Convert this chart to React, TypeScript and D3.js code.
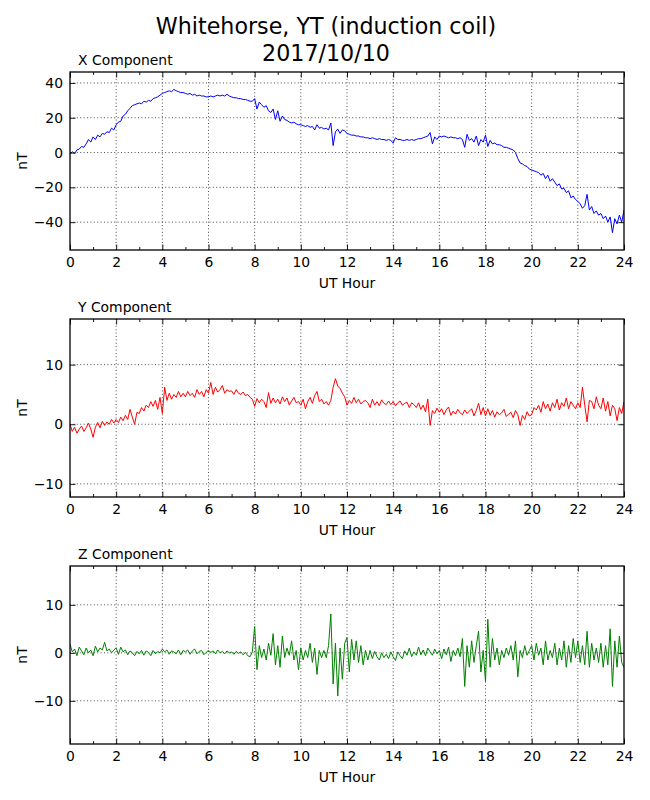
import { useEffect, useRef } from "react"
import * as d3 from "d3"

// sample times, one value every 0.1 UT hour
const hours = d3.range(0, 241).map(i => i / 10)

const xTicks = [0, 2, 4, 6, 8, 10, 12, 14, 16, 18, 20, 22, 24]
const xMinorTicks = [1, 3, 5, 7, 9, 11, 13, 15, 17, 19, 21, 23]

const xCompTicks = [-40, -20, 0, 20, 40]
const yCompTicks = [-10, 0, 10]
const zCompTicks = [-10, 0, 10]

// X component (nT)
const xComp = [
  -1, 0.5, -0.5, 1.5, 2, 3.5, 3, 5, 7.5, 6,
  9, 7.5, 10, 9, 11, 10.5, 12, 11.5, 14, 13,
  16, 17.5, 18, 21, 22, 24, 25.5, 27, 27.5, 28,
  28.5, 28, 29.5, 29, 30, 29.5, 31, 31.5, 32, 33,
  34, 34.5, 35, 35.5, 35, 36.3, 35.5, 35, 34.5, 34.5,
  34, 33.5, 34, 33, 33.5, 32.5, 33, 32.5, 32.5, 32,
  32, 32.5, 32, 32.5, 33, 32.5, 33, 32.5, 33.5, 32.5,
  32, 31.5, 31.5, 31, 31, 30.5, 30.5, 30, 29.5, 29.5,
  31, 25, 29, 27.5, 26, 27, 24, 23, 25, 19,
  24, 18, 21, 19, 18.5, 17.5, 17, 17.5, 16.5, 16,
  16, 15.5, 15, 15.5, 14.5, 15, 13, 16, 14, 14.5,
  13.5, 14, 13, 17, 4, 12, 13.5, 11, 13, 12.5,
  11, 10.5, 10, 10, 9.5, 9.5, 9, 9, 8.5, 8.5,
  8, 8.5, 8, 7.5, 8, 7.5, 7.5, 7, 7.5, 7,
  5.5, 8.5, 7.5, 7.5, 7, 7, 7.5, 7, 7.5, 7,
  7.5, 8, 8, 8.5, 9, 9.5, 11.5, 5, 9, 7.5,
  9.5, 9, 9.5, 9, 8.5, 9, 8.5, 8.5, 8, 8.5,
  7.5, 3, 10.5, 7, 8, 6, 9.5, 4, 7.5, 6,
  10, 3.5, 7, 5, 5.5, 4.5, 4.5, 4, 3, 3,
  2.5, 2, 1.5, 0, -3.5, -6, -6.5, -7.5, -8, -9.5,
  -10, -10.5, -11, -11.5, -13, -12, -15, -13, -16.5, -15,
  -17, -19, -18, -21, -20.5, -23, -22, -26, -25, -27,
  -28, -29.5, -32, -30.5, -24, -33, -31, -35, -33.5, -36,
  -35, -38, -36.5, -40, -37, -46, -38, -41, -36, -40,
  -33,
]

// Y component (nT)
const yComp = [
  0, -1.2, -0.5, -1.5, -0.8, -0.3, -1.2, -0.6, 0.2, -0.8,
  -2.2, -0.5, 0.3, -0.6, 0.5, -0.2, 0.4, 0, 0.8, 0.2,
  0.8, 0.3, 1.2, 0.6, 1.5, 0.8, 2.5, 1.2, 0, 2,
  1.8, 2.8, 2.2, 3.2, 2.8, 3.8, 3, 4, 2.5, 4.5,
  1.8, 6.2, 4, 5.2, 4.2, 5, 4.5, 5.5, 4.6, 5.2,
  4.6, 5.5, 4.8, 5.2, 4.5, 5.8, 5, 5.5, 4.6, 5.8,
  5.2, 7, 5, 6.2, 5.4, 5.8, 6.5, 5.2, 5.8, 5.5,
  5.6, 5, 5.8, 5.2, 5, 5.4, 4.8, 5, 4.5, 4.2,
  3, 4.3, 3.6, 4.2, 3.8, 2.8, 5.3, 3.5, 4.4, 3.6,
  4.2, 3.4, 4.6, 3.8, 4.4, 3.2, 3.9, 4.5, 3.6, 3.8,
  3.2, 4.2, 2.6, 3.8, 4.5, 3.5, 4.8, 5.5, 3.8, 4.2,
  3.4, 3.8, 3.2, 4, 6.2, 7.65, 6.4, 6, 5.2, 4.6,
  3.2, 4, 3.5, 4.5, 3.6, 4.2, 3.4, 3.8, 4, 3.6,
  2.8, 4.2, 3.2, 3.8, 3.1, 4.1, 3.5, 3.3, 3.9, 3.3,
  3.8, 3.1, 3.6, 3.9, 3.2, 3.5, 3.7, 2.8, 3.6, 3.3,
  2.8, 3.6, 2.5, 3.2, 2.1, 4.2, -0.2, 2.3, 1.8, 2.7,
  2, 2.6, 1.6, 2.4, 2.9, 1.5, 2.2, 1.7, 2.5, 1.9,
  1.6, 2.4, 1.8, 2.2, 2.6, 1.4, 2.3, 3.5, 1.6, 2.8,
  1.4, 2.6, 1.5, 2.3, 1.2, 2.1, 1.6, 1.9, 2.5, 1.3,
  1.7, 2, 1.1, 2.3, 1.6, -0.2, 1.5, 0.8, 2.1, 1.4,
  1.6, 2.8, 2.4, 3.2, 2, 3.8, 2.6, 3.4, 2.2, 3.6,
  2.8, 4.2, 2.4, 3.6, 3, 4.4, 2.6, 3.8, 3.2, 2.6,
  3.6, 2.8, 6.2, 3.2, 0.4, 4, 3.8, 2.6, 4.6, 3.2,
  2.6, 4.4, 2.2, 3.8, 1.4, 3.2, 2.6, 0.6, 2.8, 1.8,
  3.8,
]

// Z component (nT)
const zComp = [
  1.8, 0.2, 0.8, -0.6, 1.2, 0.4, -0.4, 1, 0, 0.6,
  -0.6, 1.4, 0.2, 1, 0.6, 2.2, 0.4, 0.8, 0, 0.6,
  1, -0.3, 1.2, 0.2, 0.6, -0.4, 0.4, 0, -0.6, 0.3,
  -0.2, 0.5, -0.5, 0.4, 0.1, -0.6, 0.5, -0.2, 0.3, 0,
  0.8, 0.2, 0.6, -0.3, 0.4, 0.2, -0.2, 0.6, -0.4, 0.5,
  0.2, 0.6, -0.3, 0.4, 0.8, -0.2, 0.3, 0.5, -0.4, 0.1,
  0.5, 0.1, 0.4, -0.2, 0.6, 0, 0.3, -0.2, 0.4, 0,
  0.2, -0.3, 0.3, -0.1, 0.2, -0.4, 0.1, -0.6, -0.8, 0.2,
  5.5, -3.5, 1.5, -1, 0.8, -1.5, 2, -0.5, 4, -2.5,
  1.5, -3, 3.5, -1, 1, -0.5, 2.5, -1.5, 0.5, -3.5,
  1, -1.5, 0.5, -1, 2, -2, 1, -4.5, 0.5, -1,
  0.5, -1, 1.5, 8.1, -6.5, 2, -9, 1, -5.5, 2,
  3.2, -4, 2.8, -1.5, 2.5, -2, 1.5, -2.5, 0.5, -1.5,
  0.5, -1.2, 0.3, -0.8, -1.5, 0, -1, -0.3, -1.2, 0.2,
  -0.8, -1.6, 0.2, -0.6, -1.2, 0.4, -0.5, 1, -0.8, 0.2,
  -0.5, 1.2, -0.4, 0.6, -0.6, 1, 0.2, -0.5, 0.8, -0.2,
  0.5, -1.2, 0.8, -0.4, 1.2, -1.8, 0.5, -0.6, 1, -0.8,
  3, -7, 1.5, -3, 2.5, -2, 1.5, 4.5, -4, 0.5,
  -6, 7, -3, 3, -1.5, 1, -2.5, 0.5, -1, 1,
  -0.5, 1.5, -1.5, 2.5, -5, 0.5, -1, 1.5, -0.5, 0.5,
  1.5, -1.5, 2, -0.5, 1, -2.5, 2.5, -1.5, 0.5, -1,
  2, -2.5, 1, -1.5, 2.5, -3, 1.5, -2, 3, -1,
  2.5, -2, 1.5, -2.5, 4.5, -3, 2, -1.5, 1, -2,
  2, -3, 1.5, -2.5, 5, -7, 2.5, -3, 3.5, -2,
  -3,
]

const panels = [
  { title: "X Component", values: xComp, ticks: xCompTicks, color: "#0000ff" },
  { title: "Y Component", values: yComp, ticks: yCompTicks, color: "#ff0000" },
  { title: "Z Component", values: zComp, ticks: zCompTicks, color: "#008000" },
]

export default function App() {
  const svgRef = useRef<SVGSVGElement>(null)

  useEffect(() => {
    const svg = d3.select(svgRef.current)
    svg.selectAll("*").remove()

    const width = 650
    const height = 800
    const left = 70
    const right = 624
    const plotH = 178
    const tops = [72, 319, 566]
    const font = "DejaVu Sans, sans-serif"

    svg.attr("width", width).attr("height", height)
      .style("font-family", font)

    svg.append("rect").attr("width", width).attr("height", height).attr("fill", "white")

    // figure title
    const title = svg.append("text")
      .attr("text-anchor", "middle")
      .attr("font-size", "22.2px")
      .attr("fill", "#000")
    title.append("tspan").attr("x", 326).attr("y", 34).text("Whitehorse, YT (induction coil)")
    title.append("tspan").attr("x", 326).attr("y", 61).text("2017/10/10")

    const x = d3.scaleLinear().domain([0, 24]).range([left, right])

    panels.forEach((p, i) => {
      const top = tops[i]
      const bottom = top + plotH
      const [lo, hi] = d3.extent(p.values) as [number, number]
      const y = d3.scaleLinear().domain([lo - 10, hi + 10]).range([bottom, top])

      const g = svg.append("g")

      // clip for the trace
      const clipId = `clip-${i}`
      svg.append("defs").append("clipPath").attr("id", clipId)
        .append("rect").attr("x", left).attr("y", top)
        .attr("width", right - left).attr("height", plotH)

      // grid
      g.append("g").selectAll("line").data(xTicks.slice(1, -1)).enter().append("line")
        .attr("x1", d => x(d)).attr("x2", d => x(d))
        .attr("y1", top).attr("y2", bottom)
        .attr("stroke", "#000").attr("stroke-width", 0.7)
        .attr("stroke-dasharray", "1,2.4")
      g.append("g").selectAll("line").data(p.ticks).enter().append("line")
        .attr("x1", left).attr("x2", right)
        .attr("y1", d => y(d)).attr("y2", d => y(d))
        .attr("stroke", "#000").attr("stroke-width", 0.7)
        .attr("stroke-dasharray", "1,2.4")

      // trace
      const line = d3.line<number>()
        .x((d, j) => x(hours[j]))
        .y(d => y(d))
      g.append("path")
        .datum(p.values)
        .attr("clip-path", `url(#${clipId})`)
        .attr("d", line)
        .attr("fill", "none")
        .attr("stroke", p.color)
        .attr("stroke-width", 1)
        .attr("stroke-linejoin", "round")

      // axes with inward ticks
      const xAxis = g.append("g")
        .attr("transform", `translate(0,${bottom})`)
        .call(d3.axisBottom(x).tickValues(xTicks).tickSize(-5.5).tickPadding(7).tickFormat(d3.format("d")))
      const xMinor = g.append("g")
        .attr("transform", `translate(0,${bottom})`)
        .call(d3.axisBottom(x).tickValues(xMinorTicks).tickSize(-3).tickFormat(() => ""))
      const xTop = g.append("g")
        .attr("transform", `translate(0,${top})`)
        .call(d3.axisTop(x).tickValues(xTicks).tickSize(-5.5).tickFormat(() => ""))
      const xTopMinor = g.append("g")
        .attr("transform", `translate(0,${top})`)
        .call(d3.axisTop(x).tickValues(xMinorTicks).tickSize(-3).tickFormat(() => ""))
      const yAxis = g.append("g")
        .attr("transform", `translate(${left},0)`)
        .call(d3.axisLeft(y).tickValues(p.ticks).tickSize(-5.5).tickPadding(7).tickFormat(d3.format("d")))
      const yRight = g.append("g")
        .attr("transform", `translate(${right},0)`)
        .call(d3.axisRight(y).tickValues(p.ticks).tickSize(-5.5).tickFormat(() => ""))

      ;[xAxis, xMinor, xTop, xTopMinor, yAxis, yRight].forEach(a => {
        a.select(".domain").remove()
        a.selectAll(".tick line").attr("stroke", "#000").attr("stroke-width", 0.9)
        a.selectAll(".tick text")
          .attr("font-family", font)
          .attr("font-size", "13.9px")
          .attr("fill", "#000")
      })

      // frame
      g.append("rect")
        .attr("x", left).attr("y", top)
        .attr("width", right - left).attr("height", plotH)
        .attr("fill", "none")
        .attr("stroke", "#000")
        .attr("stroke-width", 1.3)

      // labels
      g.append("text")
        .attr("x", 78).attr("y", top - 7)
        .attr("font-size", "13.9px")
        .text(p.title)
      g.append("text")
        .attr("x", (left + right) / 2).attr("y", bottom + 38)
        .attr("text-anchor", "middle")
        .attr("font-size", "13.9px")
        .text("UT Hour")
      g.append("text")
        .attr("transform", `translate(27,${top + plotH / 2}) rotate(-90)`)
        .attr("text-anchor", "middle")
        .attr("font-size", "13.9px")
        .text("nT")
    })
  }, [])

  return (
    <div style={{ position: "absolute", left: 0, top: 0 }}>
      <svg ref={svgRef} style={{ display: "block" }}></svg>
    </div>
  )
}
